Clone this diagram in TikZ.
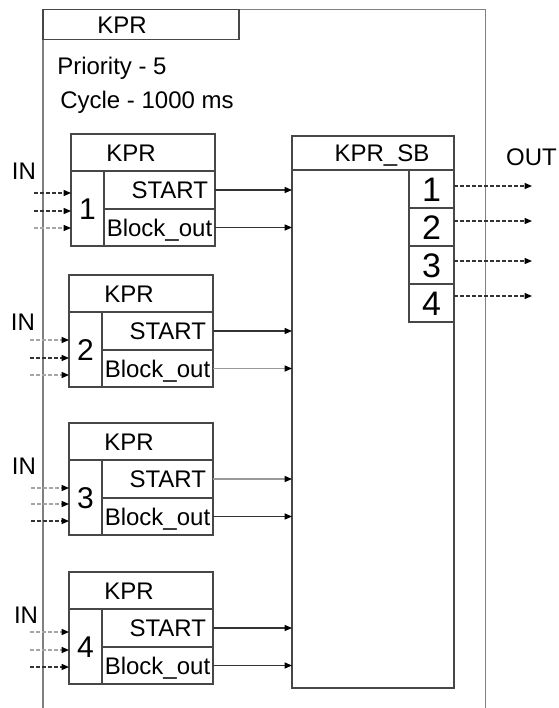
\documentclass[tikz,border=0pt]{standalone}
\usepackage{fontspec}
\setmainfont{Liberation Sans}
\usetikzlibrary{arrows.meta,positioning}

\begin{document}
\begin{tikzpicture}[x=0.75pt,y=0.75pt,yscale=-1,xscale=1,
	frame/.style={draw=black!50, line width=1.3pt},
	box/.style={draw=black!72, line width=0.9pt, inner sep=0pt, outer sep=0pt},
	hdr/.style={box, minimum width=108pt, minimum height=27.75pt, anchor=north west},
	numcell/.style={box, minimum width=24.75pt, minimum height=56.25pt, anchor=north west, font=\fontsize{22.5}{24}\selectfont, text height=16pt, text depth=0pt},
	cell/.style={box, minimum width=83.25pt, minimum height=28.5pt, anchor=north west, font=\fontsize{18}{20}\selectfont, text height=12.9pt, text depth=0pt},
	rcell/.style={cell, inner xsep=5.25pt, text width=72.75pt, align=right},
	pin/.style={box, minimum width=33.75pt, minimum height=28.5pt, anchor=north east, font=\fontsize{25.5}{27}\selectfont, text height=18.3pt, text depth=0pt},
	txt/.style={font=\fontsize{18}{20}\selectfont, inner sep=0pt, text height=12.9pt, text depth=0pt},
	flow/.style={draw=black!80, line width=0.9pt, -{Triangle[length=5.5pt,width=4.5pt,color=black]}},
	flowl/.style={flow, draw=black!40},
	sig/.style={flow, dash pattern=on 3pt off 1.5pt},
	sigl/.style={sig, draw=black!35}]
	\useasboundingbox (0,0) rectangle (558,708);
	
	%Shape: Outer frame
	\draw [frame] (43,708) -- (43,9.5) -- (485.5,9.5) -- (485.5,708) ;
	\node [box, minimum width=147pt, minimum height=22.5pt, anchor=north west] (task) at (43,9.5) {};
	% Text Node
	\node [txt] (taskname) at ([xshift=-14.25pt]task.center) {KPR};
	% Text Node
	\node [txt, anchor=base west] (prio) at (57,74) {Priority - 5};
	% Text Node
	\node [txt, anchor=base west] (cycle) at (60,108) {Cycle - 1000 ms};
	
	%Shape: Block 1
	\node [hdr] (hdr1) at (71,134) {};
	\node [txt] (kpr1) at ([xshift=-9pt]hdr1.center) {KPR};
	\node [numcell] (num1) at (hdr1.south west) {1};
	\node [rcell] (start1) at (num1.north east) {START};
	\node [cell, minimum height=27.75pt] (bout1) at (start1.south west) {Block\_out};
	%Shape: Block 2
	\node [hdr] (hdr2) at (69,275) {};
	\node [txt] (kpr2) at ([xshift=-9pt]hdr2.center) {KPR};
	\node [numcell] (num2) at (hdr2.south west) {2};
	\node [rcell] (start2) at (num2.north east) {START};
	\node [cell, minimum height=27.75pt] (bout2) at (start2.south west) {Block\_out};
	%Shape: Block 3
	\node [hdr] (hdr3) at (69,423) {};
	\node [txt] (kpr3) at ([xshift=-9pt]hdr3.center) {KPR};
	\node [numcell] (num3) at (hdr3.south west) {3};
	\node [rcell] (start3) at (num3.north east) {START};
	\node [cell, minimum height=27.75pt] (bout3) at (start3.south west) {Block\_out};
	%Shape: Block 4
	\node [hdr] (hdr4) at (69,572) {};
	\node [txt] (kpr4) at ([xshift=-9pt]hdr4.center) {KPR};
	\node [numcell] (num4) at (hdr4.south west) {4};
	\node [rcell] (start4) at (num4.north east) {START};
	\node [cell, minimum height=27.75pt] (bout4) at (start4.south west) {Block\_out};
	
	%Shape: KPR_SB
	\node [box, minimum width=121.5pt, minimum height=25.5pt, anchor=north west] (sbhdr) at (292,136) {};
	\node [txt] (sbname) at ([xshift=6.75pt]sbhdr.center) {KPR\_SB};
	\node [box, minimum width=121.5pt, minimum height=388.5pt, anchor=north west] (sb) at (sbhdr.south west) {};
	\node [pin] (pin1) at (sb.north east) {1};
	\node [pin] (pin2) at (pin1.south east) {2};
	\node [pin] (pin3) at (pin2.south east) {3};
	\node [pin] (pin4) at (pin3.south east) {4};
	
	%Straight Lines: block outputs
	\draw [flow] (start1.east) -- (start1.east -| sb.west) ;
	\draw [flow] (bout1.east) -- (bout1.east -| sb.west) ;
	\draw [flow] (start2.east) -- (start2.east -| sb.west) ;
	\draw [flowl] (bout2.east) -- (bout2.east -| sb.west) ;
	\draw [flowl] (start3.east) -- (start3.east -| sb.west) ;
	\draw [flow] (bout3.east) -- (bout3.east -| sb.west) ;
	\draw [flow] (start4.east) -- (start4.east -| sb.west) ;
	\draw [flow] (bout4.east) -- (bout4.east -| sb.west) ;
	
	%Straight Lines: inputs
	\coordinate (in11) at (34,193) ; \coordinate (in12) at (34,211) ; \coordinate (in13) at (34,228) ;
	\coordinate (in21) at (30,340) ; \coordinate (in22) at (30,358) ; \coordinate (in23) at (30,375) ;
	\coordinate (in31) at (31,488) ; \coordinate (in32) at (31,504) ; \coordinate (in33) at (31,521) ;
	\coordinate (in41) at (30,632) ; \coordinate (in42) at (30,650) ; \coordinate (in43) at (30,667) ;
	\draw [sig] (in11) -- (in11 -| num1.west) ;
	\draw [sig] (in12) -- (in12 -| num1.west) ;
	\draw [sigl] (in13) -- (in13 -| num1.west) ;
	\draw [sigl] (in21) -- (in21 -| num2.west) ;
	\draw [sig] (in22) -- (in22 -| num2.west) ;
	\draw [sigl] (in23) -- (in23 -| num2.west) ;
	\draw [sigl] (in31) -- (in31 -| num3.west) ;
	\draw [sigl] (in32) -- (in32 -| num3.west) ;
	\draw [sig] (in33) -- (in33 -| num3.west) ;
	\draw [sigl] (in41) -- (in41 -| num4.west) ;
	\draw [sigl] (in42) -- (in42 -| num4.west) ;
	\draw [sig] (in43) -- (in43 -| num4.west) ;
	% Text Node
	\node [txt] (in1) at (24,171) {IN};
	% Text Node
	\node [txt] (in2) at (23,322) {IN};
	% Text Node
	\node [txt] (in3) at (24,466) {IN};
	% Text Node
	\node [txt] (in4) at (26,615) {IN};
	
	%Straight Lines: outputs
	\coordinate (out1) at (532,186) ; \coordinate (out2) at (532,221) ;
	\coordinate (out3) at (532,261) ; \coordinate (out4) at (532,296) ;
	\draw [sig] (pin1.east |- out1) -- (out1) ;
	\draw [sig] (pin2.east |- out2) -- (out2) ;
	\draw [sig] (pin3.east |- out3) -- (out3) ;
	\draw [sig] (pin4.east |- out4) -- (out4) ;
	% Text Node
	\node [txt] (outlbl) at (531.5,157) {OUT};
	
\end{tikzpicture}
\end{document}
